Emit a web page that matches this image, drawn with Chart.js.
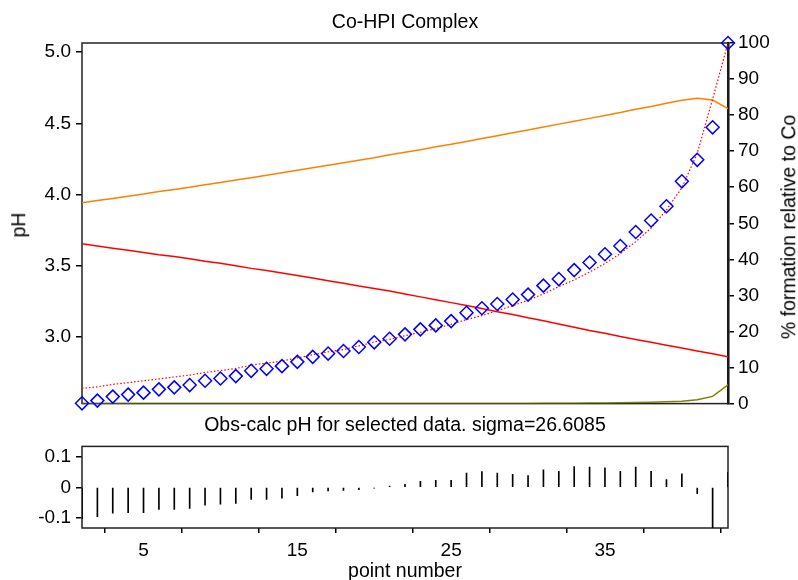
<!DOCTYPE html>
<html>
<head>
<meta charset="utf-8">
<script src="https://cdn.jsdelivr.net/npm/chart.js@4.4.1/dist/chart.umd.min.js"></script>
<style>
  body { margin: 0; background: #fff; width: 798px; height: 580px; overflow: hidden; position: relative;
         font-family: 'Liberation Sans', Arial, sans-serif; color: #000; }
  canvas { position: absolute; left: 0; }
  .lbl { position: absolute; font-size: 19.5px; line-height: 1; white-space: nowrap; transform: translate(-50%, -50%); }
  .rot { transform: translate(-50%, -50%) rotate(-90deg); }
</style>
</head>
<body>
<canvas id="mainChart" width="798" height="420" style="top:0"></canvas>
<canvas id="residChart" width="798" height="140" style="top:430px"></canvas>
<div class="lbl" style="left:405px;top:22px">Co-HPI Complex</div>
<div class="lbl" style="left:405px;top:425px">Obs-calc pH for selected data. sigma=26.6085</div>
<div class="lbl" style="left:405px;top:571px">point number</div>
<div class="lbl rot" style="left:19px;top:225px">pH</div>
<div class="lbl rot" style="left:789px;top:227px">% formation relative to Co</div>
<script>
// point numbers (x axis)
var pointNo = [1, 2, 3, 4, 5, 6, 7, 8, 9, 10, 11, 12, 13, 14, 15, 16, 17, 18, 19, 20, 21, 22,
  23, 24, 25, 26, 27, 28, 29, 30, 31, 32, 33, 34, 35, 36, 37, 38, 39, 40, 41, 42, 43];

// observed pH (blue diamonds)
var pHObs = [2.535, 2.554, 2.582, 2.596, 2.610, 2.633, 2.647, 2.663, 2.693, 2.709, 2.726,
  2.763, 2.777, 2.796, 2.826, 2.861, 2.884, 2.902, 2.930, 2.963, 2.988, 3.019, 3.054, 3.082,
  3.112, 3.170, 3.202, 3.232, 3.263, 3.298, 3.361, 3.407, 3.470, 3.523, 3.581, 3.639, 3.737,
  3.818, 3.918, 4.093, 4.244, 4.472, 5.064];

// calculated pH (red dotted)
var pHCalc = [2.640, 2.651, 2.668, 2.680, 2.694, 2.706, 2.720, 2.733, 2.752, 2.765, 2.779,
  2.803, 2.817, 2.832, 2.854, 2.876, 2.896, 2.912, 2.938, 2.966, 2.984, 3.009, 3.034, 3.059,
  3.089, 3.123, 3.150, 3.185, 3.220, 3.259, 3.303, 3.354, 3.401, 3.456, 3.516, 3.586, 3.670,
  3.765, 3.892, 4.048, 4.290, 4.670, 5.064];

// species, % formation relative to Co
var pctOrange = [55.7, 56.3, 56.9, 57.5, 58.1, 58.8, 59.4, 60.0, 60.7, 61.3, 62.0, 62.6, 63.3,
  64.0, 64.7, 65.4, 66.1, 66.8, 67.5, 68.2, 69.0, 69.7, 70.4, 71.2, 71.9, 72.7, 73.5, 74.3,
  75.1, 75.9, 76.7, 77.5, 78.3, 79.1, 79.9, 80.7, 81.6, 82.4, 83.3, 84.1, 84.7, 84.2, 81.8];
var pctRed = [44.3, 43.7, 43.1, 42.5, 41.9, 41.3, 40.8, 40.2, 39.5, 38.9, 38.2, 37.5, 36.9,
  36.2, 35.5, 34.8, 34.1, 33.4, 32.6, 31.9, 31.2, 30.4, 29.6, 28.8, 28.0, 27.2, 26.4, 25.5,
  24.7, 23.8, 23.0, 22.1, 21.2, 20.3, 19.5, 18.6, 17.8, 17.0, 16.2, 15.4, 14.6, 13.8, 13.0];
var pctOlive = [0, 0, 0, 0, 0, 0, 0, 0, 0, 0, 0, 0, 0, 0, 0, 0, 0, 0, 0, 0, 0, 0, 0, 0,
  0.01, 0.02, 0.03, 0.04, 0.05, 0.06, 0.08, 0.1, 0.12, 0.15, 0.18, 0.22, 0.28, 0.36, 0.48,
  0.66, 1.1, 2.0, 5.2];

// obs - calc residuals (bottom panel)
var residual = [-0.105, -0.097, -0.086, -0.084, -0.084, -0.073, -0.073, -0.070, -0.059, -0.056,
  -0.053, -0.040, -0.040, -0.036, -0.028, -0.015, -0.012, -0.010, -0.008, -0.003, 0.004, 0.010,
  0.020, 0.023, 0.023, 0.047, 0.052, 0.047, 0.043, 0.039, 0.058, 0.053, 0.069, 0.067, 0.065,
  0.053, 0.067, 0.053, 0.026, 0.045, -0.021, -0.200, 0.050];

// tick labels
var pHTicks = [3.0, 3.5, 4.0, 4.5, 5.0];
var residTicks = [-0.1, 0, 0.1];
var pointTicks = [5, 10, 15, 20, 25, 30, 35, 40];
var pointLabels = [5, 15, 25, 35];

function xy(ys) {
  return pointNo.map(function (n, i) { return { x: n, y: ys[i] }; });
}

var tickFont = { family: "'Liberation Sans', Arial, sans-serif", size: 19 };

var frame = {
  id: 'frame',
  beforeDatasetsDraw: function (chart) {
    var a = chart.chartArea, ctx = chart.ctx;
    ctx.save();
    ctx.strokeStyle = '#222';
    ctx.lineWidth = 1.5;
    ctx.strokeRect(a.left, a.top, a.right - a.left, a.bottom - a.top);
    ctx.restore();
  }
};

Chart.defaults.animation = false;

new Chart(document.getElementById('mainChart'), {
  type: 'line',
  data: {
    datasets: [{
      data: xy(pHObs),
      yAxisID: 'y',
      showLine: false,
      pointStyle: 'rectRot',
      pointRadius: 6.5,
      pointBorderColor: '#0000ff',
      pointBackgroundColor: 'rgba(0,0,0,0)',
      pointBorderWidth: 1.5,
      clip: false,
      order: 0
    }, {
      data: xy(pHCalc),
      yAxisID: 'y',
      borderColor: '#ff0000',
      borderWidth: 1.2,
      borderDash: [1.5, 2],
      pointRadius: 0,
      order: 1
    }, {
      data: xy(pctOrange),
      yAxisID: 'y1',
      borderColor: '#ff8000',
      borderWidth: 1.5,
      pointRadius: 0,
      order: 2
    }, {
      data: xy(pctRed),
      yAxisID: 'y1',
      borderColor: '#ff0000',
      borderWidth: 1.5,
      pointRadius: 0,
      order: 3
    }, {
      data: xy(pctOlive),
      yAxisID: 'y1',
      borderColor: '#808000',
      borderWidth: 1.5,
      pointRadius: 0,
      order: 4
    }]
  },
  options: {
    responsive: false,
    layout: { padding: { top: 43, bottom: 13, left: 0, right: 0 } },
    plugins: { legend: { display: false }, tooltip: { enabled: false } },
    scales: {
      x: { type: 'linear', min: 1, max: 43, display: false },
      y: {
        position: 'left', min: 2.533, max: 5.064,
        afterFit: function (s) { s.width = 82; },
        afterBuildTicks: function (s) { s.ticks = pHTicks.map(function (v) { return { value: v }; }); },
        ticks: { callback: function (v) { return v.toFixed(1); }, font: tickFont, color: '#000', padding: 5 },
        grid: { drawOnChartArea: false, tickLength: 6, color: '#000', lineWidth: 1.5 },
        border: { display: false }
      },
      y1: {
        position: 'right', min: 0, max: 100,
        afterFit: function (s) { s.width = 70; },
        ticks: { stepSize: 10, font: tickFont, color: '#000', padding: 4 },
        grid: { drawOnChartArea: false, tickLength: 6, color: '#000', lineWidth: 1.5 },
        border: { display: true, color: '#000', width: 2.5 }
      }
    }
  },
  plugins: [frame]
});

new Chart(document.getElementById('residChart'), {
  type: 'bar',
  data: {
    datasets: [{
      data: xy(residual),
      backgroundColor: '#000',
      barThickness: 1
    }]
  },
  options: {
    responsive: false,
    layout: { padding: { top: 16, bottom: 0, left: 0, right: 70 } },
    plugins: { legend: { display: false }, tooltip: { enabled: false } },
    scales: {
      x: {
        type: 'linear', min: 1, max: 43, offset: false,
        afterFit: function (s) { s.height = 42; },
        afterBuildTicks: function (s) { s.ticks = pointTicks.map(function (v) { return { value: v }; }); },
        ticks: {
          autoSkip: false, maxRotation: 0, font: tickFont, color: '#000', padding: 6,
          callback: function (v) { return pointLabels.indexOf(v) >= 0 ? String(v) : ''; }
        },
        grid: { drawOnChartArea: false, tickLength: 5, color: '#000', lineWidth: 1.5 },
        border: { display: false }
      },
      y: {
        min: -0.135, max: 0.136,
        afterFit: function (s) { s.width = 82; },
        afterBuildTicks: function (s) { s.ticks = residTicks.map(function (v) { return { value: v }; }); },
        ticks: {
          font: tickFont, color: '#000', padding: 5,
          callback: function (v) { return v === 0 ? '0' : v.toFixed(1); }
        },
        grid: { drawOnChartArea: false, tickLength: 6, color: '#000', lineWidth: 1.5 },
        border: { display: false }
      }
    }
  },
  plugins: [frame]
});
</script>
</body>
</html>
